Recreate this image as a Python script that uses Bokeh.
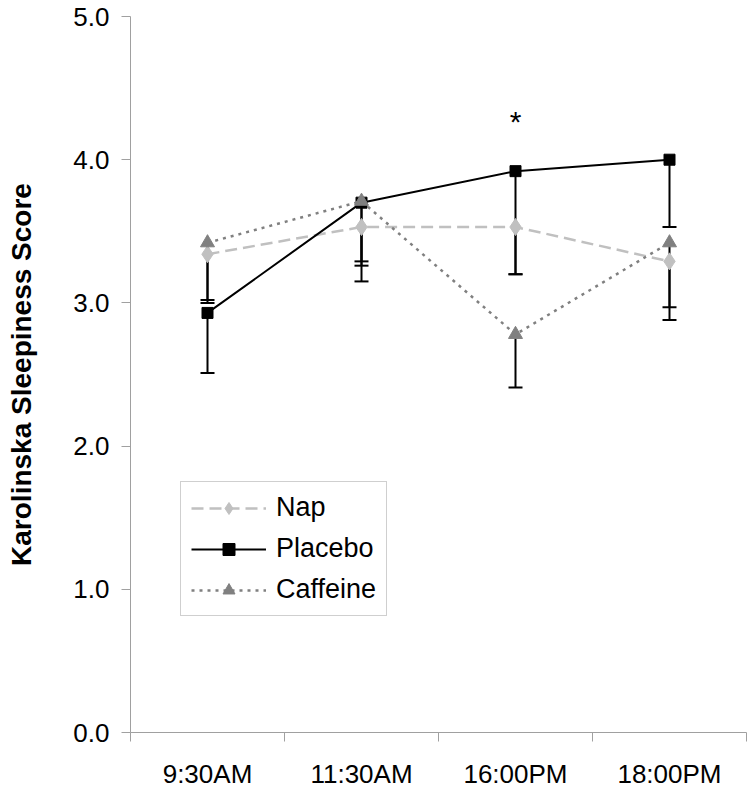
from bokeh.plotting import figure
from bokeh.models import (Range1d, FixedTicker, Whisker,
                          ColumnDataSource, TeeHead, NumeralTickFormatter)
from bokeh.core.properties import value
from bokeh.embed import file_html
from bokeh.resources import INLINE

times = ["9:30AM", "11:30AM", "16:00PM", "18:00PM"]
nap = [3.34, 3.53, 3.53, 3.29]
nap_low = [3.02, 3.29, 3.20, 2.97]
placebo = [2.93, 3.70, 3.92, 4.00]
placebo_low = [2.51, 3.15, 3.20, 3.53]
caffeine = [3.42, 3.71, 2.78, 3.42]
caffeine_low = [3.00, 3.26, 2.41, 2.88]
y_ticks = [0, 1, 2, 3, 4, 5]
star_time = ["16:00PM"]
star_score = [4.27]

AXIS = "#a0a0a0"
NAP_C = "#c0c0c0"
CAF_C = "#808080"
FONT = "Liberation Sans"

n = len(times)
# category slots: each time point sits at the centre of its slot
slot = {t: i + 0.5 for i, t in enumerate(times)}
xs = [slot[t] for t in times]

src = ColumnDataSource(dict(x=xs, nap=nap, nap_low=nap_low, placebo=placebo,
                            placebo_low=placebo_low, caffeine=caffeine,
                            caffeine_low=caffeine_low))

p = figure(x_range=Range1d(0, n), y_range=Range1d(0, 5), width=747, height=796,
           output_backend="svg", toolbar_location=None,
           min_border_left=130, min_border_right=1, min_border_top=16,
           min_border_bottom=64)
p.outline_line_color = None
p.grid.visible = False

# y axis
ya = p.yaxis[0]
ya.ticker = FixedTicker(ticks=y_ticks)
ya.formatter = NumeralTickFormatter(format="0.0")
ya.minor_tick_line_color = None
ya.axis_line_color = AXIS
ya.major_tick_line_color = AXIS
ya.major_tick_in = 0
ya.major_tick_out = 9
ya.major_label_text_font = FONT
ya.major_label_text_font_size = "26px"
ya.major_label_text_color = "black"
ya.major_label_standoff = 12
ya.axis_label = "Karolinska Sleepiness Score"
ya.axis_label_text_font = FONT
ya.axis_label_text_font_style = "bold"
ya.axis_label_text_font_size = "28px"
ya.axis_label_text_color = "black"
ya.axis_label_standoff = 33

# x axis: tick marks at slot edges, labels at slot centres
xa = p.xaxis[0]
xa.ticker = FixedTicker(ticks=xs, minor_ticks=list(range(n + 1)))
xa.major_label_overrides = {slot[t]: t for t in times}
xa.axis_line_color = AXIS
xa.major_tick_line_color = None
xa.minor_tick_line_color = AXIS
xa.minor_tick_in = 0
xa.minor_tick_out = 9
xa.major_label_text_font = FONT
xa.major_label_text_font_size = "26px"
xa.major_label_text_color = "black"
xa.major_label_standoff = 17

# error bars (lower side only)
for col, low in [("placebo", "placebo_low"), ("nap", "nap_low"), ("caffeine", "caffeine_low")]:
    p.add_layout(Whisker(base="x", upper=col, lower=low, source=src,
                         line_color="black", line_width=2, upper_head=None,
                         lower_head=TeeHead(size=14, line_color="black", line_width=2)))

# series
p.line("x", "nap", source=src, line_color=NAP_C, line_dash="12 6", line_width=2.5,
       legend_label="Nap")
p.scatter("x", "nap", source=src, marker="diamond", size=17, fill_color=NAP_C,
          line_color=NAP_C, legend_label="Nap")
p.line("x", "placebo", source=src, line_color="black", line_width=2,
       legend_label="Placebo")
p.scatter("x", "placebo", source=src, marker="square", size=11, fill_color="black",
          line_color="black", legend_label="Placebo")
p.line("x", "caffeine", source=src, line_color=CAF_C, line_dash="3 5", line_width=2.5,
       legend_label="Caffeine")
p.scatter("x", "caffeine", source=src, marker="triangle", size=14, fill_color=CAF_C,
          line_color=CAF_C, legend_label="Caffeine")

p.text(x=[slot[t] for t in star_time], y=star_score, text=["*"], text_align="center",
       text_baseline="middle", text_font=value(FONT), text_font_size="30px",
       text_color="black")

lg = p.legend[0]
lg.location = (50, 116)
lg.border_line_color = AXIS
lg.border_line_width = 1
lg.background_fill_color = "white"
lg.background_fill_alpha = 1
lg.glyph_width = 75
lg.glyph_height = 30
lg.label_text_font = FONT
lg.label_text_font_size = "27px"
lg.label_text_color = "black"
lg.label_standoff = 10
lg.padding = 10
lg.spacing = 10
lg.margin = 0

open("out.html", "w").write(file_html(p, INLINE))
